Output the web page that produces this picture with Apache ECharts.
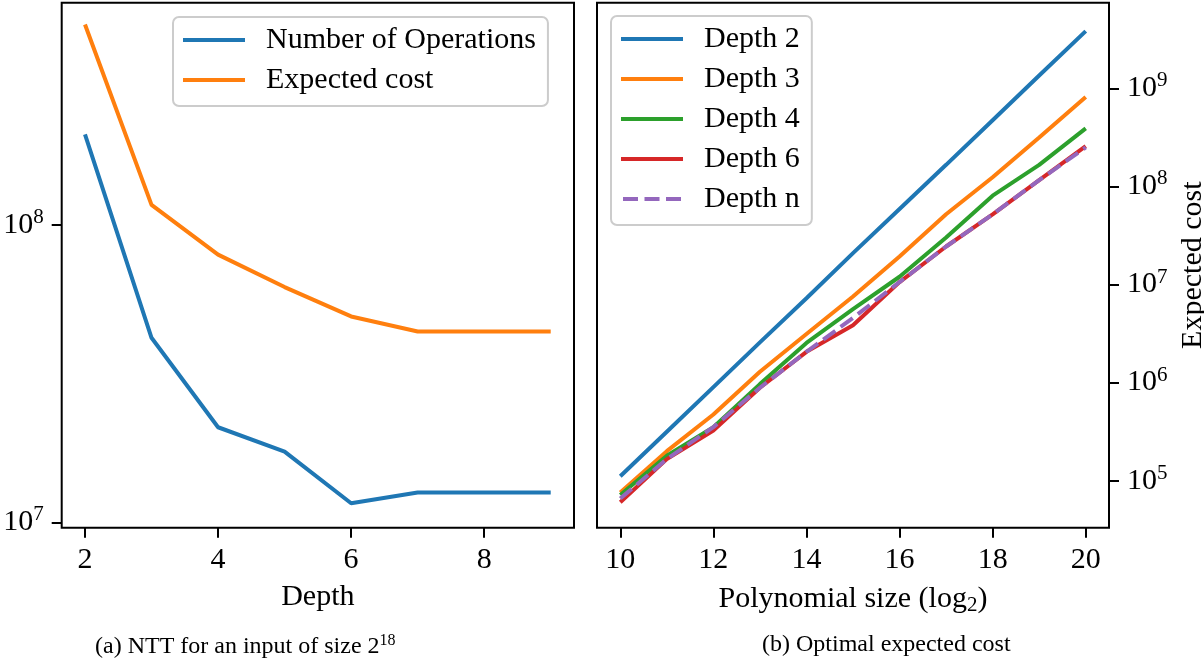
<!DOCTYPE html>
<html>
<head>
<meta charset="utf-8">
<script src="https://cdn.jsdelivr.net/npm/echarts@6/dist/echarts.min.js"></script>
<style>
html,body{margin:0;padding:0;background:#fff;}
#main{width:1204px;height:662px;}
</style>
</head>
<body>
<div id="main"></div>
<script>
// ---- Panel (a) data ----
const depthsA = [2, 3, 4, 5, 6, 7, 8, 9];
const numOperations = [2.02e8, 4.18e7, 2.09e7, 1.73e7, 1.16e7, 1.26e7, 1.26e7, 1.26e7];
const expectedCostA = [4.73e8, 1.17e8, 7.96e7, 6.19e7, 4.93e7, 4.39e7, 4.39e7, 4.39e7];
const ticksXA = [2, 4, 6, 8];
const ticksYA = [1e7, 1e8];

// ---- Panel (b) data ----
const polySize = [10, 11, 12, 13, 14, 15, 16, 17, 18, 19, 20];
const depth2 = [1.11e5, 3.16e5, 9.0e5, 2.57e6, 7.24e6, 2.09e7, 5.89e7, 1.66e8, 4.73e8, 1.35e9, 3.83e9];
const depth3 = [7.6e4, 2.0e5, 4.73e5, 1.29e6, 3.13e6, 7.55e6, 1.93e7, 5.2e7, 1.24e8, 3.16e8, 8.17e8];
const depth4 = [7.14e4, 1.8e5, 3.52e5, 9.66e5, 2.54e6, 5.62e6, 1.2e7, 3.02e7, 8.05e7, 1.66e8, 3.91e8];
const depth6 = [6.03e4, 1.66e5, 3.24e5, 8.87e5, 2.06e6, 3.85e6, 1.06e7, 2.44e7, 5.2e7, 1.16e8, 2.57e8];
const depthN = [6.58e4, 1.66e5, 3.52e5, 8.87e5, 2.06e6, 4.57e6, 1.06e7, 2.44e7, 5.2e7, 1.16e8, 2.5e8];
const ticksXB = [10, 12, 14, 16, 18, 20];
const ticksYB = [1e5, 1e6, 1e7, 1e8, 1e9];

const FONT = '"Liberation Serif", "DejaVu Serif", serif';
const FS = 30;
const pairs = (xs, ys) => xs.map((x, i) => [x, ys[i]]);
const powLabel = v => '10{sup|' + Math.round(Math.log10(v)) + '}';
const richSup = {
  sup: { fontSize: 21, fontFamily: FONT, color: '#000', padding: [0, 0, 15, 0] }
};

function xAxisCfg(gi, min, max, ticks, name) {
  return {
    type: 'value', gridIndex: gi, min: min, max: max,
    name: name, nameLocation: 'middle', nameGap: 54,
    nameTextStyle: { fontFamily: FONT, fontSize: FS, color: '#000',
      rich: { sub: { fontSize: 21, fontFamily: FONT, color: '#000', padding: [13, 0, 0, 0] } } },
    axisLine: { show: false },
    splitLine: { show: false },
    axisTick: { show: true, length: 10, lineStyle: { color: '#000', width: 2 }, customValues: ticks },
    axisLabel: { show: true, margin: 17, fontFamily: FONT, fontSize: FS, color: '#000', customValues: ticks }
  };
}
function yAxisCfg(gi, min, max, ticks, pos, name) {
  return {
    type: 'log', logBase: 10, gridIndex: gi, min: min, max: max, position: pos,
    name: name || '', nameLocation: 'middle', nameGap: 69, nameRotate: 90,
    nameTextStyle: { fontFamily: FONT, fontSize: FS, color: '#000' },
    axisLine: { show: false },
    splitLine: { show: false },
    minorTick: { show: false },
    axisTick: { show: true, length: 10, lineStyle: { color: '#000', width: 2 }, customValues: ticks },
    axisLabel: {
      show: true, margin: 18, fontFamily: FONT, fontSize: FS, color: '#000',
      customValues: ticks, formatter: powLabel, rich: richSup
    }
  };
}

const legendCommon = {
  orient: 'vertical',
  backgroundColor: 'rgba(255,255,255,0.8)',
  borderColor: '#cccccc', borderWidth: 2, borderRadius: 6,
  padding: [8, 12, 11, 10],
  itemWidth: 62, itemHeight: 4, itemGap: 10,
  textStyle: { fontFamily: FONT, fontSize: FS, color: '#000', lineHeight: 30, padding: [0, 0, 0, 16] }
};
const DASH_ICON = 'path://M0 0H15V4H0Z M21.5 0H36.5V4H21.5Z M43 0H58V4H43Z';

function lineSeries(name, xi, yi, xs, ys, color, dash) {
  return {
    type: 'line', name: name, xAxisIndex: xi, yAxisIndex: yi,
    data: pairs(xs, ys), symbol: 'none', showSymbol: false,
    lineStyle: { color: color, width: 4, type: dash || 'solid', cap: 'butt' },
    itemStyle: { color: color },
    emphasis: { disabled: true }
  };
}

const chart = echarts.init(document.getElementById('main'), null, { renderer: 'canvas' });
chart.setOption({
  animation: false,
  backgroundColor: '#fff',
  grid: [
    { left: 61.7, top: 2.7, width: 512.3, height: 525, show: true, borderColor: '#000', borderWidth: 2,
      backgroundColor: 'transparent', containLabel: false, outerBoundsMode: 'none' },
    { left: 597, top: 2.7, width: 512, height: 525, show: true, borderColor: '#000', borderWidth: 2,
      backgroundColor: 'transparent', containLabel: false, outerBoundsMode: 'none' }
  ],
  xAxis: [
    xAxisCfg(0, 1.65, 9.35, ticksXA, 'Depth'),
    xAxisCfg(1, 9.5, 20.5, ticksXB, 'Polynomial size (log{sub|2})')
  ],
  yAxis: [
    yAxisCfg(0, 9.6e6, 5.6e8, ticksYA, 'left'),
    yAxisCfg(1, 3.32e4, 7.46e9, ticksYB, 'right', 'Expected cost')
  ],
  legend: [
    Object.assign({}, legendCommon, { left: 173, top: 17, data: [
      { name: 'Number of Operations', icon: 'rect' },
      { name: 'Expected cost', icon: 'rect' }
    ] }),
    Object.assign({}, legendCommon, { left: 611, top: 16, data: [
      { name: 'Depth 2', icon: 'rect' },
      { name: 'Depth 3', icon: 'rect' },
      { name: 'Depth 4', icon: 'rect' },
      { name: 'Depth 6', icon: 'rect' },
      { name: 'Depth n', icon: DASH_ICON }
    ] })
  ],
  series: [
    lineSeries('Number of Operations', 0, 0, depthsA, numOperations, '#1f77b4'),
    lineSeries('Expected cost', 0, 0, depthsA, expectedCostA, '#ff7f0e'),
    lineSeries('Depth 2', 1, 1, polySize, depth2, '#1f77b4'),
    lineSeries('Depth 3', 1, 1, polySize, depth3, '#ff7f0e'),
    lineSeries('Depth 4', 1, 1, polySize, depth4, '#2ca02c'),
    lineSeries('Depth 6', 1, 1, polySize, depth6, '#d62728'),
    lineSeries('Depth n', 1, 1, polySize, depthN, '#9467bd', [15, 6.5])
  ],
  graphic: [
    { type: 'text', left: 95, top: 633, style: { text: '(a) NTT for an input of size 2{sup|18}', fontFamily: FONT, fontSize: 24, fill: '#000',
        rich: { sup: { fontSize: 16, fontFamily: FONT, padding: [0, 0, 12, 0] } } } },
    { type: 'text', left: 762, top: 633, style: { text: '(b) Optimal expected cost', fontFamily: FONT, fontSize: 24, fill: '#000' } }
  ]
});
</script>
</body>
</html>
